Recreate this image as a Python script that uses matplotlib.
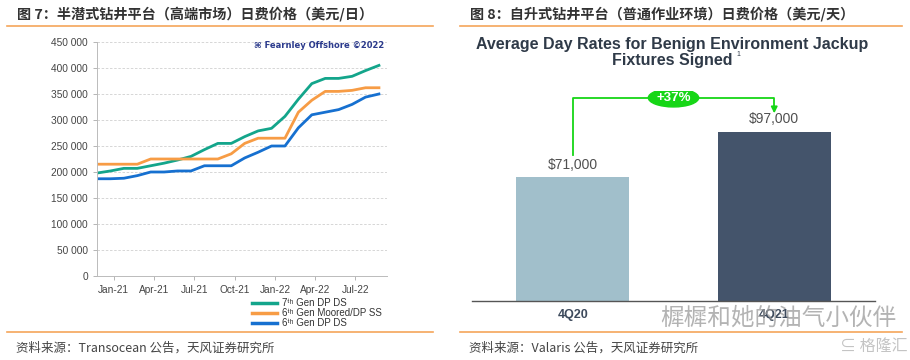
import numpy as np
import matplotlib
matplotlib.use("Agg")
import matplotlib.pyplot as plt
from matplotlib.patches import Ellipse
from matplotlib.lines import Line2D

plt.rcParams['font.family'] = ['Liberation Sans', 'DejaVu Sans', 'Noto Sans CJK SC']

# ---- data : figure 7 (semi-sub day rates, monthly) ----
months = ['Nov-20', 'Dec-20', 'Jan-21', 'Feb-21', 'Mar-21', 'Apr-21', 'May-21', 'Jun-21',
          'Jul-21', 'Aug-21', 'Sep-21', 'Oct-21', 'Nov-21', 'Dec-21', 'Jan-22', 'Feb-22',
          'Mar-22', 'Apr-22', 'May-22', 'Jun-22', 'Jul-22', 'Aug-22']
gen7_dpds = [198000, 202000, 207000, 207000, 212000, 217000, 223000, 230000, 243000, 255000,
             255000, 268000, 279000, 284000, 307000, 340000, 370000, 380000, 380000, 384000,
             395000, 405000]
gen6_moored = [215000, 215000, 215000, 215000, 225000, 225000, 225000, 225000, 225000, 225000,
               235000, 255000, 265000, 265000, 265000, 315000, 338000, 355000, 355000, 357000,
               362000, 362000]
gen6_dpds = [187000, 187000, 188000, 193000, 200000, 200000, 202000, 202000, 212000, 212000,
             212000, 227000, 238000, 250000, 250000, 285000, 310000, 315000, 320000, 330000,
             344000, 350000]
series_labels = ['7ᵗʰ Gen DP DS', '6ᵗʰ Gen Moored/DP SS', '6ᵗʰ Gen DP DS']
tick_labels = ['Jan-21', 'Apr-21', 'Jul-21', 'Oct-21', 'Jan-22', 'Apr-22', 'Jul-22']
y_ticks = [0, 50000, 100000, 150000, 200000, 250000, 300000, 350000, 400000, 450000]

# ---- data : figure 8 (jackup day rates) ----
quarters = ['4Q20', '4Q21']
day_rates = [71000, 97000]
change_label = '+37%'

W, H = 910, 360
fig = plt.figure(figsize=(W / 100, H / 100), dpi=100)

def fx(px):
    return px / W

def fy(py):
    return 1 - py / H

cjk = ['Noto Sans CJK SC', 'Liberation Sans']
orange_rule = '#f5a55a'

# figure headers, rules and sources
fig.text(fx(17), fy(14), '图 7：半潜式钻井平台（高端市场）日费价格（美元/日）', family=cjk,
         fontsize=10.2, fontweight='bold', color='#333333', va='center')
fig.text(fx(470), fy(14), '图 8：自升式钻井平台（普通作业环境）日费价格（美元/天）', family=cjk,
         fontsize=10.2, fontweight='bold', color='#333333', va='center')
for x0, x1 in [(7, 433), (460, 902)]:
    fig.add_artist(Line2D([fx(x0), fx(x1)], [fy(25.5), fy(25.5)], color=orange_rule, lw=1.2))
    fig.add_artist(Line2D([fx(x0), fx(x1)], [fy(332), fy(332)], color=orange_rule, lw=1.2))
fig.text(fx(16), fy(348), '资料来源：Transocean 公告，天风证券研究所', family=cjk,
         fontsize=9, color='#444444', va='center')
fig.text(fx(469), fy(348), '资料来源：Valaris 公告，天风证券研究所', family=cjk,
         fontsize=9, color='#444444', va='center')

# ---- left chart ----
ax = fig.add_axes([fx(97), fy(276), fx(290), 234 / H])
x = np.arange(len(months))
ax.plot(x, gen7_dpds, color='#13a58b', lw=2, label=series_labels[0])
ax.plot(x, gen6_moored, color='#f79c45', lw=2, label=series_labels[1])
ax.plot(x, gen6_dpds, color='#1670d0', lw=2, label=series_labels[2])
ax.set_xlim(0, 21.6)
ax.set_ylim(0, 450000)
ax.set_yticks(y_ticks)
ax.set_yticklabels([f'{v:,}'.replace(',', ' ') for v in y_ticks])
ax.set_xticks([1.25 + 3 * i for i in range(len(tick_labels))])
ax.set_xticklabels(tick_labels)
ax.tick_params(labelsize=7.3, colors='#444444', length=3, width=0.6, color='#aaaaaa')
ax.grid(axis='y', ls=(0, (3, 2)), color='#d0d0d0', lw=0.6)
for s in ['top', 'right']:
    ax.spines[s].set_visible(False)
for s in ['left', 'bottom']:
    ax.spines[s].set_color('#bbbbbb')
    ax.spines[s].set_linewidth(0.7)
ax.text(0.99, 0.985, '⌘ Fearnley Offshore ©2022', transform=ax.transAxes, ha='right', va='center',
        fontsize=6, color='#2b3a8c', fontweight='bold', family=['DejaVu Sans'])
leg = ax.legend(loc='upper right', bbox_to_anchor=(1.0, -0.075), frameon=False, fontsize=7,
                handlelength=2.6, labelspacing=0.0, borderpad=0, handletextpad=0.5,
                labelcolor='#333333')
for ln in leg.get_lines():
    ln.set_linewidth(2.5)

# ---- right chart ----
ax2 = fig.add_axes([fx(472), fy(301), fx(403), 210 / H])
pos = np.arange(len(quarters))
ax2.bar(pos, day_rates, width=0.56, color=['#a1bfcb', '#44546b'])
ax2.set_xlim(-0.5, 1.5)
ax2.set_ylim(0, max(day_rates) * 1.24)
ax2.set_yticks([])
ax2.set_xticks(pos)
ax2.set_xticklabels(quarters, fontsize=9, fontweight='bold', color='#3d4a5c')
ax2.tick_params(axis='x', length=0, pad=6)
for s in ['top', 'right', 'left']:
    ax2.spines[s].set_visible(False)
ax2.spines['bottom'].set_color('#555555')
ax2.spines['bottom'].set_linewidth(1)
for p, v in zip(pos, day_rates):
    ax2.text(p, v + 3000, f'${v:,}', ha='center', va='bottom', fontsize=10, color='#505050')

# growth arrow
top = max(day_rates) * 1.2
green = '#16d616'
ax2.plot([pos[0], pos[0], pos[1], pos[1]],
         [day_rates[0] + 12500, top, top, top - 6500], color=green, lw=1.3)
ax2.annotate('', xy=(pos[1], top - 10500), xytext=(pos[1], top - 5000),
             arrowprops=dict(arrowstyle='-|>', color=green, lw=1.3, mutation_scale=9))
ax2.add_patch(Ellipse((0.5, top), 0.25, 10500, color=green, zorder=3))
ax2.text(0.5, top, change_label, ha='center', va='center', fontsize=9.5, color='white',
         fontweight='bold', zorder=4)

fig.text(fx(672), fy(45), 'Average Day Rates for Benign Environment Jackup', ha='center',
         va='center', fontsize=11.5, fontweight='bold', color='#2f3a48')
fig.text(fx(672), fy(61), 'Fixtures Signed', ha='center', va='center',
         fontsize=11.5, fontweight='bold', color='#2f3a48')
fig.text(fx(736), fy(55), '1', ha='left', va='center', fontsize=5, color='#2f3a48')

# watermark
fig.text(fx(660), fy(318), '樨樨和她的油气小伙伴', family=cjk, fontsize=17,
         color='#9a9a9a', alpha=0.75, va='center')
fig.text(fx(840), fy(346), '⊆ 格隆汇', family=cjk, fontsize=11.5, color='#c4c4c4', va='center')

fig.savefig('out.png', dpi=100)
